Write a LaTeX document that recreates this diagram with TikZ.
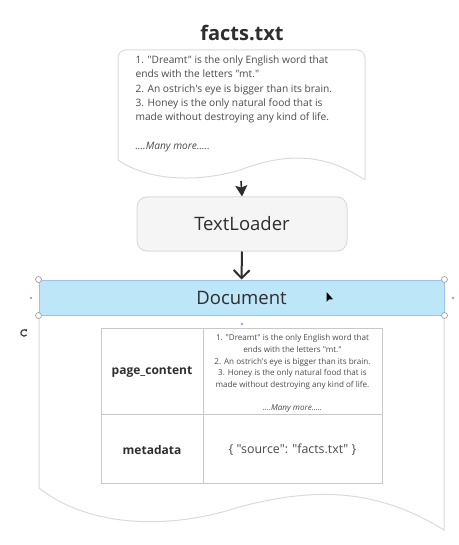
\documentclass[tikz,border=0pt]{standalone}
\usepackage{fontspec}
\setmainfont{Open Sans}[Ligatures = TeXOff]
\usetikzlibrary{arrows.meta}
\usetikzlibrary{positioning}
\tikzset{handle/.style = {draw = handlegray, fill = white, circle, inner sep = 0, minimum size = 6, line width = 0.7}}
\tikzset{bluedot/.style = {fill = dotblue, circle, inner sep = 0, minimum size = 2.6}}
\tikzset{bodytext/.style = {text = textgray, font = \fontsize{10.2}{14.4}\selectfont}}
\tikzset{celltext/.style = {text = textgray, font = \fontsize{8.1}{11.7}\selectfont}}
\definecolor{inkgray}{HTML}{2E2E2E}
\definecolor{textgray}{HTML}{4A4A4A}
\definecolor{linegray}{HTML}{DADADA}
\definecolor{tablegray}{HTML}{C8C8C8}
\definecolor{handlegray}{HTML}{A0A0A0}
\definecolor{loaderfill}{HTML}{F5F5F5}
\definecolor{docfill}{HTML}{BDE6F9}
\definecolor{docline}{HTML}{9CC3EE}
\definecolor{dotblue}{HTML}{8FA9E6}

\begin{document}
\begin{tikzpicture}[x = 1pt, y = -1pt]
      \useasboundingbox (0, 0) rectangle (458, 545);

      % source file
      \node [text = inkgray] (title) at (242, 33) {\fontsize{20}{24}\selectfont\bfseries facts.txt};
      \draw [linegray, line width = 1, rounded corners = 8] (118, 160) -- (118, 50) -- (365, 50) -- (365, 180);
      \draw [linegray, line width = 1] (118, 160) .. controls (150, 182) and (200, 182) .. (240, 170)
        .. controls (280, 155) and (320, 150) .. (365, 180);
      \node [bodytext, anchor = north west, align = left] (facts) at (132, 52) {1. "Dreamt" is the only English word that\\
        ends with the letters "mt."\\
        2. An ostrich's eye is bigger than its brain.\\
        3. Honey is the only natural food that is\\
        made without destroying any kind of life.\\[14.4pt]
        \textit{....Many more.....}};
      \coordinate (factsend) at (241, 181);

      % loader
      \node [draw = linegray, fill = loaderfill, rounded corners = 10, line width = 1, minimum width = 210, minimum height = 54, text = inkgray] (loader) at (242, 224) {\fontsize{18.5}{22}\selectfont TextLoader};
      \draw [inkgray, line width = 1.6, -{Stealth[length = 11, width = 12, inset = 2]}] (factsend) -- (loader.north);

      % document
      \draw [linegray, line width = 1] (39, 315) -- (39, 488) .. controls (91, 529) and (173, 529) .. (239, 507)
        .. controls (305, 490) and (370, 484) .. (444, 530) -- (444, 315);
      \node [draw = docline, fill = docfill, line width = 1, inner sep = 0, minimum width = 405, minimum height = 35, text = inkgray] (doc) at (241.5, 297.5) {\fontsize{18.5}{22}\selectfont Document};
      \draw [inkgray, line width = 2, -{Straight Barb[length = 8, width = 16]}] (loader.south) -- (doc.north);

      \foreach \c/\n in {north west/1, north east/2, south west/3, south east/4} {
        \node [handle] (handle\n) at (doc.\c) {};
      }
      \node [bluedot] (dotleft) at (31, 298) {};
      \node [bluedot] (dotright) at (453, 298) {};
      \node [bluedot] (dotbelow) at (242, 324) {};
      \draw [inkgray, line width = 1.1, {Stealth[length = 2.2, width = 3.2]}-] (26.8, 331.4) arc [start angle = -30, end angle = -325, radius = 3.2];
      \fill [black] (326.5, 292) -- (326.5, 302) -- (329, 299.4) -- (333, 299.2) -- cycle;

      % table
      \draw [tablegray, line width = 0.8] (101, 328) rectangle (382, 483);
      \draw [tablegray, line width = 0.8] (203, 328) -- (203, 483);
      \draw [tablegray, line width = 0.8] (101, 414) -- (382, 414);
      \node [text = inkgray] (pagekey) at (152, 372) {\fontsize{12}{14}\selectfont\bfseries page\_content};
      \node [text = inkgray] (metakey) at (152, 450) {\fontsize{12}{14}\selectfont\bfseries metadata};
      \node [celltext, anchor = north, align = center] (pageval) at (292.5, 331) {1. "Dreamt" is the only English word that\\
        ends with the letters "mt."\\
        2. An ostrich's eye is bigger than its brain.\\
        3. Honey is the only natural food that is\\
        made without destroying any kind of life.\\[11.7pt]
        \textit{....Many more.....}};
      \node [text = textgray] (metaval) at (292.5, 450) {\fontsize{12.4}{14}\selectfont \{ "source": "facts.txt" \}};
    \end{tikzpicture}
\end{document}
